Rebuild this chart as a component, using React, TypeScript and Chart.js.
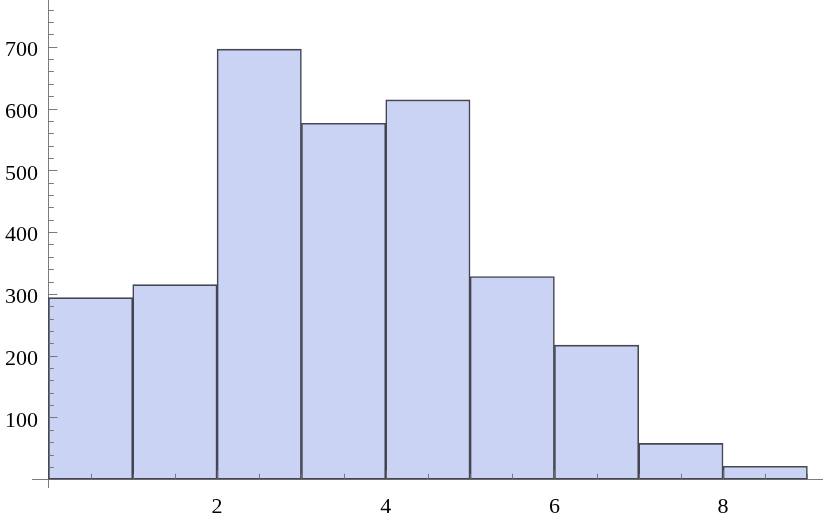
import React, { useEffect, useRef } from "react";
import { Chart, registerables } from "chart.js";

Chart.register(...registerables);

const binStarts = [0, 1, 2, 3, 4, 5, 6, 7, 8];
const binWidth = 1;
const counts = [294, 315, 696, 576, 614, 328, 217, 58, 21];
const xLabelValues = [2, 4, 6, 8];
const yLabelStep = 100;
const yMinorStep = 20;

const X_AXIS_START = -0.194;
const X_MIN = -0.0996;
const X_MAX = 9.185;
const Y_MIN = -14.1;
const Y_MAX = 775.6;

const AXIS_COLOR = "rgba(110,110,110,0.9)";
const FONT = { family: "'Liberation Serif', 'Times New Roman', serif", size: 22 };

const axisPlugin = {
  id: "mmaAxes",
  beforeDatasetsDraw(chart: any) {
    const ctx = chart.ctx;
    const xs = chart.scales.x;
    const ys = chart.scales.y;
    const area = chart.chartArea;
    const x0 = Math.round(xs.getPixelForValue(0)) + 0.5;
    const y0 = Math.round(ys.getPixelForValue(0)) + 0.5;
    ctx.save();
    ctx.strokeStyle = AXIS_COLOR;
    ctx.lineWidth = 1;
    ctx.beginPath();
    ctx.moveTo(x0, area.top);
    ctx.lineTo(x0, area.bottom);
    ctx.moveTo(xs.getPixelForValue(X_AXIS_START), y0);
    ctx.lineTo(area.right, y0);
    ctx.stroke();
    ctx.restore();
  },
  afterDatasetsDraw(chart: any) {
    const ctx = chart.ctx;
    const xs = chart.scales.x;
    const ys = chart.scales.y;
    const x0 = xs.getPixelForValue(0);
    const y0 = ys.getPixelForValue(0);
    ctx.save();
    ctx.strokeStyle = AXIS_COLOR;
    ctx.lineWidth = 1;
    ctx.beginPath();
    const xt = xs.ticks.map((t: any) => t.value);
    const xMarks: number[] = [];
    for (let i = 0; i < xt.length; i++) {
      xMarks.push(xt[i]);
      if (i + 1 < xt.length) xMarks.push((xt[i] + xt[i + 1]) / 2);
    }
    for (const v of xMarks) {
      if (v <= 0) continue;
      const px = Math.round(xs.getPixelForValue(v)) + 0.5;
      const len = xLabelValues.includes(v) ? 9 : 5.5;
      ctx.moveTo(px, y0);
      ctx.lineTo(px, y0 - len);
    }
    for (const t of ys.ticks) {
      const v = t.value;
      if (v <= 0) continue;
      const py = Math.round(ys.getPixelForValue(v)) + 0.5;
      const len = v % yLabelStep === 0 ? 9 : 5.5;
      ctx.moveTo(x0, py);
      ctx.lineTo(x0 + len, py);
    }
    ctx.stroke();
    ctx.restore();
  },
};

export default function App() {
  const ref = useRef<HTMLCanvasElement | null>(null);
  useEffect(() => {
    if (!ref.current) return;
    const chart = new Chart(ref.current, {
      type: "bar",
      data: {
        datasets: [
          {
            data: binStarts.map((s, i) => ({ x: s + binWidth / 2, y: counts[i] })),
            backgroundColor: "#cbd3f5",
            borderColor: "rgba(58,61,72,0.95)",
            borderWidth: 1.6,
            borderSkipped: false,
            barPercentage: 1,
            categoryPercentage: 1,
          },
        ],
      },
      options: {
        animation: false,
        responsive: false,
        events: [],
        layout: { padding: { left: 0, top: 0, right: 3, bottom: 35 } },
        plugins: { legend: { display: false }, tooltip: { enabled: false } },
        scales: {
          x: {
            type: "linear",
            position: { y: 0 } as any,
            offset: false,
            min: X_MIN,
            max: X_MAX,
            grid: { display: false, offset: false },
            border: { display: false },
            ticks: {
              stepSize: binWidth,
              includeBounds: false,
              autoSkip: false,
              maxRotation: 0,
              padding: 7,
              color: "#000",
              font: FONT,
              callback: (v: any) => (xLabelValues.includes(Number(v)) ? String(v) : ""),
            },
            afterFit: (s: any) => {
              s.paddingLeft = 0;
              s.paddingRight = 0;
            },
          },
          y: {
            type: "linear",
            position: "left",
            min: Y_MIN,
            max: Y_MAX,
            grid: { display: false, drawTicks: false },
            border: { display: false },
            ticks: {
              stepSize: yMinorStep,
              includeBounds: false,
              autoSkip: false,
              padding: 2,
              labelOffset: 3.5,
              color: "#000",
              font: FONT,
              callback: (v: any) => {
                const n = Number(v);
                return n > 0 && n % yLabelStep === 0 ? String(n) : "";
              },
            },
            afterFit: (s: any) => {
              s.width = 40;
              s.paddingTop = 0;
              s.paddingBottom = 0;
            },
          },
        },
      },
      plugins: [axisPlugin],
    });
    return () => chart.destroy();
  }, []);
  return (
    <div style={{ position: "fixed", left: 0, top: 0, width: 826, height: 523, background: "#fff" }}>
      <canvas ref={ref} width={826} height={523} style={{ display: "block" }} />
    </div>
  );
}
